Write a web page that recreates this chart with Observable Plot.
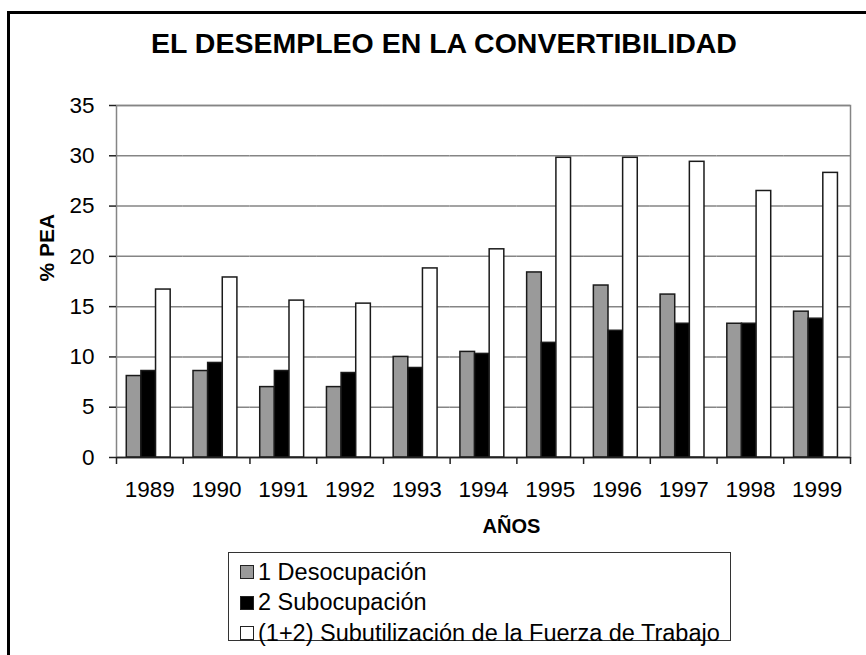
<!DOCTYPE html>
<html>
<head>
<meta charset="utf-8">
<script src="https://cdn.jsdelivr.net/npm/d3@7"></script>
<script src="https://cdn.jsdelivr.net/npm/@observablehq/plot@0.6"></script>
<style>
  html, body { margin: 0; padding: 0; background: #fff; }
  #wrap { position: relative; width: 866px; height: 655px; overflow: hidden;
          font-family: "Liberation Sans", Arial, sans-serif; color: #000; }
  #border { position: absolute; left: 7px; top: 11px; width: 900px; height: 700px;
            border: 3px solid #000; }
  #title { position: absolute; left: 151px; top: 29px; font-size: 28.5px; line-height: 29px;
           font-weight: bold; white-space: nowrap; }
  #chart { position: absolute; left: 0; top: 90px; }
  #legend { position: absolute; left: 228px; top: 552px; height: 89px;
            border: 1.5px solid #333; padding: 4px 10px 0 11px; box-sizing: border-box; }
  .row { display: flex; align-items: center; height: 30.5px; font-size: 23.5px; white-space: nowrap; }
  .sw { width: 12px; height: 12px; border: 1px solid #222; margin-right: 4px; flex: none; }
</style>
</head>
<body>
<div id="wrap">
  <div id="border"></div>
  <div id="title"></div>
  <div id="chart"></div>
  <div id="legend"></div>
</div>
<script>
const titulo = "EL DESEMPLEO EN LA CONVERTIBILIDAD";
const years = [1989, 1990, 1991, 1992, 1993, 1994, 1995, 1996, 1997, 1998, 1999];
const series = ["1 Desocupación", "2 Subocupación", "(1+2) Subutilización de la Fuerza de Trabajo"];
const desocupacion = [8.1, 8.6, 7.0, 7.0, 10.0, 10.5, 18.4, 17.1, 16.2, 13.3, 14.5];
const subocupacion = [8.6, 9.4, 8.6, 8.4, 8.9, 10.3, 11.4, 12.6, 13.3, 13.3, 13.8];
const subutilizacion = [16.7, 17.9, 15.6, 15.3, 18.8, 20.7, 29.8, 29.8, 29.4, 26.5, 28.3];
const yTicks = [0, 5, 10, 15, 20, 25, 30, 35];
const colores = ["#9a9a9a", "#000000", "#ffffff"];
const yLabel = "% PEA";
const xLabel = "AÑOS";

const valuesBySeries = [desocupacion, subocupacion, subutilizacion];
const data = years.flatMap((year, i) =>
  series.map((serie, k) => ({year, serie, value: valuesBySeries[k][i]})));

document.getElementById("title").textContent = titulo;

const W = 866, H = 460, ML = 116, MR = 16, MT = 15, MB = 93;
const step = (W - ML - MR) / years.length;
const font = "Liberation Sans, Arial, sans-serif";

const chart = Plot.plot({
  width: W, height: H,
  marginLeft: ML, marginRight: MR, marginTop: MT, marginBottom: MB,
  style: {fontFamily: font, fontSize: "22.5px", color: "#000", background: "transparent", overflow: "visible"},
  fx: {domain: years, padding: 0, round: false, axis: null},
  x: {domain: series, paddingInner: 0, paddingOuter: 0.78, align: 0.45, round: false, axis: null},
  y: {domain: [0, 35], axis: null},
  color: {domain: series, range: colores},
  marks: [
    Plot.gridY(yTicks, {stroke: "#858585", strokeOpacity: 1, strokeWidth: 1.5}),
    Plot.frame({facet: "super", stroke: "#858585", strokeWidth: 1.5}),
    Plot.barY(data, {fx: "year", x: "serie", y: "value", fill: "serie", stroke: "#1a1a1a", strokeWidth: 1.5}),
    Plot.ruleY([0], {stroke: "#222", strokeWidth: 1.5}),
    Plot.axisY({ticks: yTicks, tickSize: 7, tickPadding: 15, fontSize: 22.5, line: true, stroke: "#222", strokeWidth: 1.5, label: null}),
    Plot.axisFx({anchor: "bottom", tickSize: 0, tickPadding: 24, fontSize: 22.5, label: null, tickFormat: d => String(d)}),
    Plot.axisFx({anchor: "bottom", tickSize: 7, dx: -step / 2, tickFormat: () => "", label: null, stroke: "#222", strokeWidth: 1.5}),
    Plot.axisFx({anchor: "bottom", ticks: [years[years.length - 1]], tickSize: 7, dx: step / 2, tickFormat: () => "", label: null, stroke: "#222", strokeWidth: 1.5}),
    Plot.text([yLabel], {facet: "super", frameAnchor: "left", rotate: -90, dx: -69, fontWeight: "bold", fontSize: 21}),
    Plot.text([xLabel], {facet: "super", frameAnchor: "bottom", dy: 75, dx: 28, fontWeight: "bold", fontSize: 20})
  ]
});
document.getElementById("chart").appendChild(chart);

const legend = document.getElementById("legend");
series.forEach((s, k) => {
  const row = document.createElement("div");
  row.className = "row";
  const sw = document.createElement("span");
  sw.className = "sw";
  sw.style.background = colores[k];
  const label = document.createElement("span");
  label.textContent = s;
  row.appendChild(sw);
  row.appendChild(label);
  legend.appendChild(row);
});
</script>
</body>
</html>
